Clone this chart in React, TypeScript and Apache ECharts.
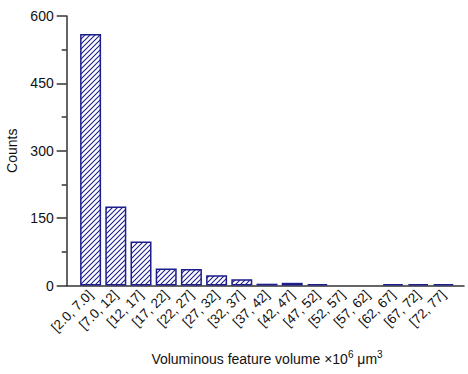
import React, { useEffect, useRef } from "react";
import * as echarts from "echarts";

const categories = [
  "[2.0, 7.0]", "[7.0, 12]", "[12, 17]", "[17, 22]", "[22, 27]",
  "[27, 32]", "[32, 37]", "[37, 42]", "[42, 47]", "[47, 52]",
  "[52, 57]", "[57, 62]", "[62, 67]", "[67, 72]", "[72, 77]",
];
const counts = [560, 176, 98, 38, 37, 23, 14, 4, 6, 3, 0, 0, 3, 3, 3];
const yTicks = { min: 0, max: 600, interval: 150 };

const NAVY = "#1d1d8c";
const AXIS = "#333333";
const FONT = "'Liberation Sans', Arial, sans-serif";

function makeHatch() {
  const s = 5;
  const c = document.createElement("canvas");
  c.width = s;
  c.height = s;
  const ctx = c.getContext("2d")!;
  ctx.fillStyle = "#ffffff";
  ctx.fillRect(0, 0, s, s);
  ctx.strokeStyle = NAVY;
  ctx.lineWidth = 1.1;
  ctx.beginPath();
  ctx.moveTo(-1, s + 1);
  ctx.lineTo(s + 1, -1);
  ctx.moveTo(-1, 1);
  ctx.lineTo(1, -1);
  ctx.moveTo(s - 1, s + 1);
  ctx.lineTo(s + 1, s - 1);
  ctx.stroke();
  return c;
}

export default function App() {
  const ref = useRef<HTMLDivElement>(null);
  useEffect(() => {
    const chart = echarts.init(ref.current!, undefined, { renderer: "svg" });
    const hatch = makeHatch();
    chart.setOption({
      animation: false,
      backgroundColor: "#ffffff",
      grid: [
        { left: 78, right: 12, top: 16, bottom: 88.5, outerBoundsMode: "none", containLabel: false },
        { left: 66.7, right: 4, top: 16, bottom: 88.5, outerBoundsMode: "none", containLabel: false },
      ],
      xAxis: [
        {
          type: "category",
          gridIndex: 0,
          data: categories,
          axisLine: { show: false },
          axisTick: { show: false },
          axisLabel: {
            rotate: 45,
            interval: 0,
            margin: 7,
            fontFamily: FONT,
            fontSize: 13.5,
            color: "#111",
          },
          name: "{a|Voluminous feature volume ×10}{s|6}{a| μm}{s|3}",
          nameLocation: "middle",
          nameGap: 64,
          nameTextStyle: {
            rich: {
              a: { fontFamily: FONT, fontSize: 14, color: "#111", verticalAlign: "bottom" },
              s: {
                fontFamily: FONT,
                fontSize: 10,
                color: "#111",
                verticalAlign: "bottom",
                padding: [0, 0, 6, 0],
              },
            },
          },
        },
        {
          type: "value",
          gridIndex: 1,
          min: 0,
          max: 1,
          axisLine: { show: true, lineStyle: { color: AXIS, width: 1.5 } },
          axisTick: { show: false },
          axisLabel: { show: false },
          splitLine: { show: false },
        },
      ],
      yAxis: [
        {
          type: "value",
          gridIndex: 0,
          show: false,
          min: yTicks.min,
          max: yTicks.max,
          interval: yTicks.interval,
        },
        {
          type: "value",
          gridIndex: 1,
          min: yTicks.min,
          max: yTicks.max,
          interval: yTicks.interval,
          axisLine: { show: true, lineStyle: { color: AXIS, width: 1.5 } },
          axisTick: { show: true, length: 10, lineStyle: { color: AXIS, width: 1.5 } },
          minorTick: { show: true, splitNumber: 2, length: 5, lineStyle: { color: AXIS, width: 1.5 } },
          splitLine: { show: false },
          axisLabel: { fontFamily: FONT, fontSize: 14, color: "#111", margin: 13 },
          name: "Counts",
          nameLocation: "middle",
          nameGap: 47,
          nameTextStyle: { fontFamily: FONT, fontSize: 14, color: "#111" },
        },
      ],
      series: [
        {
          type: "bar",
          xAxisIndex: 0,
          yAxisIndex: 0,
          data: counts.map((v) => (v === 0 ? null : v)),
          barWidth: 21,
          itemStyle: {
            color: { image: hatch, repeat: "repeat" },
            borderColor: NAVY,
            borderWidth: 1.5,
          },
        },
      ],
    });
    return () => chart.dispose();
  }, []);
  return <div ref={ref} style={{ width: 468, height: 374, position: "absolute", left: 0, top: 0 }} />;
}
